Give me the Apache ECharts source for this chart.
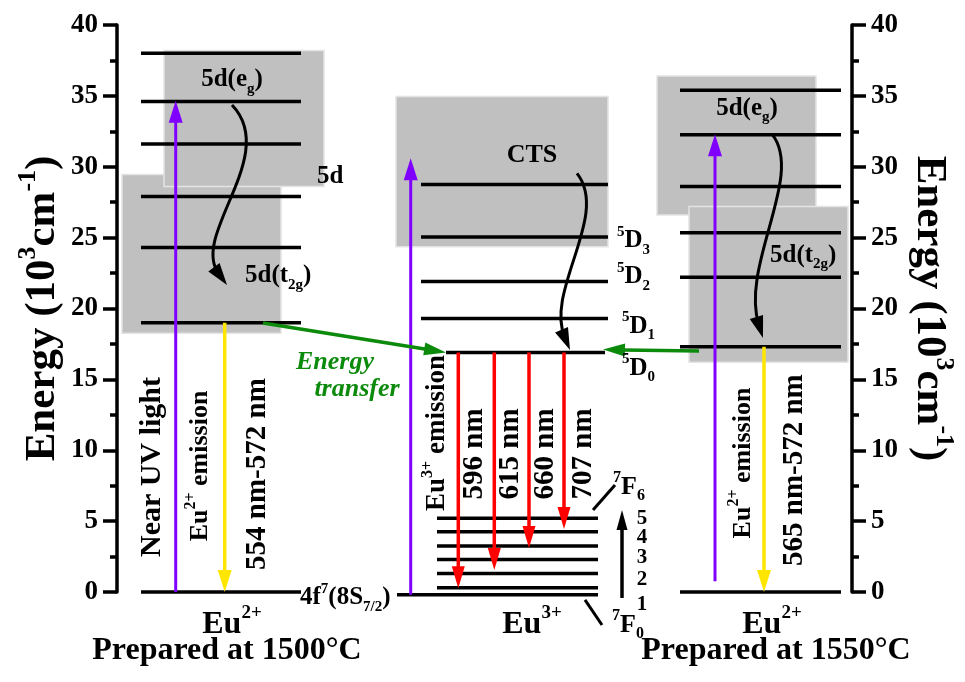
<!DOCTYPE html>
<html><head><meta charset="utf-8">
<script src="https://cdn.jsdelivr.net/npm/echarts@6/dist/echarts.min.js"></script>
<style>html,body{margin:0;padding:0;background:#fff}#c{width:965px;height:682px}</style>
</head><body><div id="c"></div>
<script>
// ---------------- values (energy, 10^3 cm^-1) ----------------
const energyTicks = [0, 5, 10, 15, 20, 25, 30, 35, 40];
const eu2Levels1500 = [38.0, 34.6, 31.6, 27.9, 24.3, 19.0];
const eu2Levels1550 = [35.4, 32.25, 28.6, 25.35, 22.2, 17.3];
const eu2Ground = 0;
const eu3DLevels = [28.75, 25.05, 21.9, 19.3];
const eu3D0 = 16.9;
const eu3FLevels = [0.3, 1.3, 2.3, 3.25, 4.25, 5.2];
const eu3Ground = -0.2;
const band1500T2g = [18.25, 29.45];
const band1500Eg = [28.6, 38.2];
const bandCTS = [24.35, 34.95];
const band1550Eg = [26.6, 36.4];
const band1550T2g = [16.2, 27.2];
const excitationBase = [0, -0.2, 0.75];
const excitationTop = [34.65, 30.6, 32.3];
const eu2EmissionTop = [19.0, 17.3];
const eu3EmissionEnd = [0.26, 1.55, 3.1, 4.44];
const eu3EmissionNames = ['596 nm', '615 nm', '660 nm', '707 nm'];
const transferStart = [18.98, 17.0];
const transferEnd = [16.9, 17.1];
const fArrow = [-0.42, 5.78];
const fNumbers = ['5', '4', '3', '2', '1'];
const fNumberY = [5.15, 3.81, 2.40, 0.85, -0.92];

// ---------------- layout (horizontal diagram units) ----------------
const FONT = '"Liberation Serif","Times New Roman",serif';
const PURPLE = '#8000ff', YELLOW = '#ffe600', RED = '#ff0000', GREEN = '#0b8a0b', GRAY = '#c0c0c0';
const L = {lv: [24, 184], t2g: [5, 164], eg: [47, 207], uv: 58.7, em: 107.7};
const C = {lv: [304, 491], d0: [329, 488], f: [320, 481], g: [280, 481], band: [279, 491], uv: 293.7,
           red: [341.3, 377.3, 412, 447], up: 505};
const R = {lv: [563, 724], eg: [540, 699], t2g: [572, 731], uv: 598, em: 647};

// bands
const bands = [
  [L.t2g[0], L.t2g[1], band1500T2g[0], band1500T2g[1]],
  [L.eg[0], L.eg[1], band1500Eg[0], band1500Eg[1]],
  [C.band[0], C.band[1], bandCTS[0], bandCTS[1]],
  [R.eg[0], R.eg[1], band1550Eg[0], band1550Eg[1]],
  [R.t2g[0], R.t2g[1], band1550T2g[0], band1550T2g[1]]
];
// levels
const levels = [];
eu2Levels1500.concat([eu2Ground]).forEach(e => levels.push([L.lv[0], L.lv[1], e]));
eu3DLevels.forEach(e => levels.push([C.lv[0], C.lv[1], e]));
levels.push([C.d0[0], C.d0[1], eu3D0]);
eu3FLevels.forEach(e => levels.push([C.f[0], C.f[1], e]));
levels.push([C.g[0], C.g[1], eu3Ground]);
eu2Levels1550.concat([eu2Ground]).forEach(e => levels.push([R.lv[0], R.lv[1], e]));

// straight arrows [x0,y0,x1,y1] + style
const arrows = [], arrowStyle = [];
function addArrow(a, s) { arrows.push(a); arrowStyle.push(s); }
const big = {lw: 3, hl: 22, hw: 14};
addArrow([L.uv, excitationBase[0], L.uv, excitationTop[0]], Object.assign({c: PURPLE}, big));
addArrow([L.em, eu2EmissionTop[0], L.em, eu2Ground], Object.assign({c: YELLOW}, big, {lw: 3.5}));
addArrow([C.uv, excitationBase[1], C.uv, excitationTop[1]], Object.assign({c: PURPLE}, big));
C.red.forEach((x, i) => addArrow([x, eu3D0, x, eu3EmissionEnd[i]], {c: RED, lw: 3.5, hl: 22, hw: 13}));
addArrow([R.uv, excitationBase[2], R.uv, excitationTop[2]], Object.assign({c: PURPLE}, big));
addArrow([R.em, eu2EmissionTop[1], R.em, eu2Ground], Object.assign({c: YELLOW}, big, {lw: 3.5}));
addArrow([146, transferStart[0], C.d0[0], transferEnd[0]], {c: GREEN, lw: 3.5, hl: 22, hw: 13});
addArrow([582, transferStart[1], 486, transferEnd[1]], {c: GREEN, lw: 3.5, hl: 22, hw: 13});
addArrow([C.up, fArrow[0], C.up, fArrow[1]], {c: '#000', lw: 3.5, hl: 20, hw: 11});

// curved relaxation arrows (cubic bezier: start, cp1, cp2, tip)
const curves = [
  [115, 34.35, 163, 30.8, 73, 25.2, 110, 21.66],
  [460, 29.53, 493, 26.6, 428, 21.3, 453, 17.07],
  [655, 32.3, 688, 29.4, 623, 23.07, 646, 17.92]
];
// leader strokes for 7F6 / 7F0
const leaders = [[476, 5.78, 498, 7.55], [468, -0.56, 485, -2.33]];

// text annotations
const labels = [
  {p: [115, 36.12], t: '{m|5d(e}{sub|g}{m|)}', s: 25},
  {p: [200, 29.28], t: '{m|5d}', s: 25, a: 'left'},
  {p: [128, 22.29], t: '{m|5d(t}{sub|2g}{m|)}', s: 25, a: 'left'},
  {p: [35, 8.82], t: '{m|Near UV light}', s: 30, r: 90},
  {p: [83, 8.89], t: '{m|Eu}{sup|2+}{m| emission}', s: 26, r: 90},
  {p: [141, 8.32], t: '{m|554 nm-572 nm}', s: 29, r: 90},
  {p: [183, -0.42], t: '{m|4f}{sup|7}{m|(8S}{sub|7/2}{m|)}', s: 25, a: 'left'},
  {p: [115, -2.33], t: '{m|Eu}{sup|2+}', s: 32},
  {p: [110, -4.16], t: '{m|Prepared at 1500°C}', s: 32},
  {p: [415, 30.83], t: '{m|CTS}', s: 26},
  {p: [500, 24.76], t: '{sup|5}{m|D}{sub|3}', s: 25, a: 'left'},
  {p: [500, 22.22], t: '{sup|5}{m|D}{sub|2}', s: 25, a: 'left'},
  {p: [505, 18.73], t: '{sup|5}{m|D}{sub|1}', s: 25, a: 'left'},
  {p: [505, 15.77], t: '{sup|5}{m|D}{sub|0}', s: 25, a: 'left'},
  {p: [218, 16.23], t: '{m|Energy}', s: 26, c: GREEN, i: true},
  {p: [240, 14.32], t: '{m|transfer}', s: 26, c: GREEN, i: true},
  {p: [320, 11.22], t: '{m|Eu}{sup|3+}{m| emission}', s: 27, r: 90},
  {p: [496, 7.41], t: '{sup|7}{m|F}{sub|6}', s: 26, a: 'left'},
  {p: [495, -2.33], t: '{sup|7}{m|F}{sub|0}', s: 26, a: 'left'},
  {p: [415, -2.33], t: '{m|Eu}{sup|3+}', s: 32},
  {p: [630, 34.14], t: '{m|5d(e}{sub|g}{m|)}', s: 25},
  {p: [653, 23.77], t: '{m|5d(t}{sub|2g}{m|)}', s: 25, a: 'left'},
  {p: [626, 9.1], t: '{m|Eu}{sup|2+}{m| emission}', s: 26, r: 90},
  {p: [678, 8.6], t: '{m|565 nm-572 nm}', s: 29, r: 90},
  {p: [655, -2.33], t: '{m|Eu}{sup|2+}', s: 32},
  {p: [659, -4.16], t: '{m|Prepared at 1550°C}', s: 32}
];
const nmX = [358, 394, 429, 467];
eu3EmissionNames.forEach((n, i) => labels.push({p: [nmX[i], 9.74], t: '{m|' + n + '}', s: 29, r: 90}));
fNumbers.forEach((n, i) => labels.push({p: [525, fNumberY[i]], t: '{m|' + n + '}', s: 21}));

function richFill(size, color, italic) {
  const base = {fontFamily: FONT, fontWeight: 'bold', fill: color, fontStyle: italic ? 'italic' : 'normal'};
  const sm = Math.round(size * 0.6);
  return {
    m: Object.assign({fontSize: size, lineHeight: Math.round(size * 1.3)}, base),
    sup: Object.assign({fontSize: sm, lineHeight: sm, verticalAlign: 'top'}, base),
    sub: Object.assign({fontSize: sm, lineHeight: sm, verticalAlign: 'bottom'}, base)
  };
}
function richColor(size) {
  const base = {fontFamily: FONT, fontWeight: 'bold', color: '#000'};
  const sm = Math.round(size * 0.6);
  return {
    m: Object.assign({fontSize: size, lineHeight: Math.round(size * 1.3)}, base),
    sup: Object.assign({fontSize: sm, lineHeight: sm, verticalAlign: 'top'}, base)
  };
}
function head(tip, ux, uy, hl, hw, color) {
  const bx = tip[0] - ux * hl, by = tip[1] - uy * hl, nx = -uy, ny = ux;
  return {type: 'polygon', shape: {points: [[tip[0], tip[1]], [bx + nx * hw / 2, by + ny * hw / 2], [bx - nx * hw / 2, by - ny * hw / 2]]},
          style: {fill: color}};
}

const chart = echarts.init(document.getElementById('c'), null, {renderer: 'canvas'});
const TITLE_SIZE = 43;
const yAxisBase = {
  type: 'value', min: energyTicks[0], max: energyTicks[energyTicks.length - 1], interval: energyTicks[1] - energyTicks[0],
  axisLine: {show: true, lineStyle: {color: '#000', width: 3.5}},
  axisTick: {show: true, length: 14, lineStyle: {color: '#000', width: 3.5}},
  minorTick: {show: true, splitNumber: 2, length: 7, lineStyle: {color: '#000', width: 3.5}},
  splitLine: {show: false},
  axisLabel: {fontSize: 27, fontWeight: 'bold', fontFamily: FONT, color: '#000', margin: 19},
  name: '{m|Energy (10}{sup|3}{m|cm}{sup|-1}{m|)}',
  nameLocation: 'middle',
  nameMoveOverlap: false,
  nameTextStyle: {fontSize: TITLE_SIZE, fontWeight: 'bold', fontFamily: FONT, color: '#000', rich: richColor(TITLE_SIZE)}
};
chart.setOption({
  animation: false,
  backgroundColor: '#fff',
  grid: {left: 117, right: 113, top: 25, bottom: 90, containLabel: false, outerBoundsMode: 'none'},
  xAxis: {type: 'value', min: 0, max: 735, show: false},
  yAxis: [
    Object.assign({}, yAxisBase, {position: 'left', nameGap: 46, nameRotate: 90}),
    Object.assign({}, yAxisBase, {position: 'right', nameGap: 49, nameRotate: -90})
  ],
  series: [
    {type: 'custom', clip: false, z: 1, data: bands, encode: {x: [0, 1], y: [2, 3]},
     renderItem: (p, api) => {
       const a = api.coord([api.value(0), api.value(3)]), b = api.coord([api.value(1), api.value(2)]);
       return {type: 'rect', shape: {x: a[0], y: a[1], width: b[0] - a[0], height: b[1] - a[1]},
               style: {fill: GRAY, stroke: '#e4e4e4', lineWidth: 1.5}};
     }},
    {type: 'custom', clip: false, z: 2, data: levels, encode: {x: [0, 1], y: 2},
     renderItem: (p, api) => {
       const a = api.coord([api.value(0), api.value(2)]), b = api.coord([api.value(1), api.value(2)]);
       return {type: 'line', shape: {x1: a[0], y1: a[1], x2: b[0], y2: b[1]}, style: {stroke: '#000', lineWidth: 3.5}};
     }},
    {type: 'custom', clip: false, z: 3, data: leaders, encode: {x: [0, 2], y: [1, 3]},
     renderItem: (p, api) => {
       const a = api.coord([api.value(0), api.value(1)]), b = api.coord([api.value(2), api.value(3)]);
       return {type: 'line', shape: {x1: a[0], y1: a[1], x2: b[0], y2: b[1]}, style: {stroke: '#000', lineWidth: 3}};
     }},
    {type: 'custom', clip: false, z: 4, data: arrows, encode: {x: [0, 2], y: [1, 3]},
     renderItem: (p, api) => {
       const st = arrowStyle[p.dataIndex];
       const a = api.coord([api.value(0), api.value(1)]), b = api.coord([api.value(2), api.value(3)]);
       const dx = b[0] - a[0], dy = b[1] - a[1], len = Math.hypot(dx, dy), ux = dx / len, uy = dy / len;
       const ex = b[0] - ux * (st.hl - 2), ey = b[1] - uy * (st.hl - 2);
       return {type: 'group', children: [
         {type: 'line', shape: {x1: a[0], y1: a[1], x2: ex, y2: ey}, style: {stroke: st.c, lineWidth: st.lw}},
         head(b, ux, uy, st.hl, st.hw, st.c)
       ]};
     }},
    {type: 'custom', clip: false, z: 5, data: curves, encode: {x: [0, 2, 4, 6], y: [1, 3, 5, 7]},
     renderItem: (p, api) => {
       const P = [0, 1, 2, 3].map(k => api.coord([api.value(2 * k), api.value(2 * k + 1)]));
       const dx = P[3][0] - P[2][0], dy = P[3][1] - P[2][1], len = Math.hypot(dx, dy);
       return {type: 'group', children: [
         {type: 'bezierCurve', shape: {x1: P[0][0], y1: P[0][1], cpx1: P[1][0], cpy1: P[1][1], cpx2: P[2][0], cpy2: P[2][1], x2: P[3][0] - dx / len * 14, y2: P[3][1] - dy / len * 14},
          style: {stroke: '#000', lineWidth: 3, fill: null}},
         head(P[3], dx / len, dy / len, 22, 14, '#000')
       ]};
     }},
    {type: 'custom', clip: false, z: 6, data: labels.map(l => l.p), encode: {x: 0, y: 1},
     renderItem: (p, api) => {
       const l = labels[p.dataIndex];
       const c = api.coord([api.value(0), api.value(1)]);
       const col = l.c || '#000';
       return {type: 'text', x: c[0], y: c[1], rotation: (l.r || 0) * Math.PI / 180,
               style: {text: l.t, rich: richFill(l.s, col, l.i), fill: col, fontSize: l.s, fontFamily: FONT, fontWeight: 'bold',
                       fontStyle: l.i ? 'italic' : 'normal', align: l.a || 'center', verticalAlign: 'middle'}};
     }}
  ]
});
</script></body></html>
